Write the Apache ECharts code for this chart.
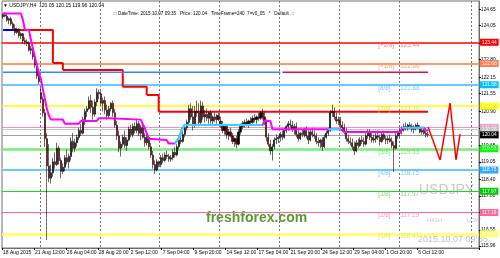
<!DOCTYPE html>
<html><head><meta charset="utf-8">
<script src="https://cdn.jsdelivr.net/npm/echarts@6/dist/echarts.min.js"></script>
<style>html,body{margin:0;padding:0;background:#fff}#c{width:500px;height:258px}</style>
</head><body><div id="c"></div>
<script>
// ---------------- DATA ----------------
const timeLabels = ['18 Aug 2015','21 Aug 12:00','26 Aug 04:00','28 Aug 20:00','2 Sep 12:00','7 Sep 04:00','9 Sep 20:00','14 Sep 12:00','17 Sep 04:00','21 Sep 20:00','24 Sep 12:00','29 Sep 04:00','1 Oct 20:00','6 Oct 12:00'];
const priceTicks = [124.65,124.05,123.42,122.80,122.15,121.55,120.90,120.30,119.65,119.05,118.40,117.80,117.19,116.55,115.96];

const opens = [
124.38,124.45,124.40,124.25,124.30,124.12,123.95,123.80,123.92,123.68,123.75,123.50,123.45,123.40,123.15,123.20,122.90,122.60,122.20,
121.60,121.35,120.85,119.90,118.90,118.45,
118.65,119.05,118.95,119.55,119.10,118.70,
118.85,119.20,119.05,119.25,119.80,119.55,
119.75,119.95,120.20,120.10,120.60,120.90,
121.00,121.30,121.05,120.80,121.25,121.60,
121.55,121.20,121.30,120.95,120.75,121.00,
121.20,120.85,120.40,120.00,119.55,119.70,
119.95,119.65,119.85,120.25,120.05,120.35,
120.20,120.45,120.10,120.30,119.95,119.75,
119.95,119.60,119.30,118.95,118.75,119.05,
118.95,119.20,119.10,119.30,119.25,119.15,
119.20,119.40,119.30,119.60,119.85,119.80,
120.05,120.30,120.50,121.00,120.70,120.40,
120.90,120.85,120.50,121.10,120.70,120.80,
120.65,120.85,120.55,120.70,120.60,120.75,
120.55,120.40,120.20,120.35,120.05,120.15,
120.00,119.80,119.90,119.70,120.15,120.35,
120.45,120.50,120.40,120.55,120.50,120.65,
120.60,120.70,120.65,120.85,120.70,120.55,
119.95,119.70,119.45,119.60,119.85,119.90,
119.95,120.05,119.95,120.20,120.35,120.45,
120.40,120.25,120.35,120.05,119.90,120.10,
120.05,120.20,120.00,119.85,120.15,120.05,
120.00,119.80,119.75,119.85,119.60,119.95,
120.10,120.20,120.85,120.90,120.70,120.55,
120.60,120.40,120.30,120.15,119.90,119.80,
119.75,119.60,119.45,119.75,119.65,119.85,
119.80,119.70,120.00,120.15,119.95,119.85,
119.90,120.00,119.95,119.80,120.05,119.90,
119.85,119.90,119.80,119.65,119.55,120.00,
120.10,120.20,120.25,120.35,120.30,120.40,
120.35,120.25,120.30,120.40,120.30,120.15,
120.20,120.10,120.05];
const highs = [
124.50,124.55,124.48,124.35,124.38,124.20,124.10,123.98,123.96,123.80,123.78,123.62,123.55,123.48,123.30,123.25,123.00,122.70,122.35,
121.80,121.45,121.00,120.10,119.70,118.95,
119.20,119.40,119.75,119.65,119.20,119.00,
119.30,119.50,119.35,119.95,120.10,119.90,
120.05,120.30,120.45,120.70,121.00,121.10,
121.45,121.50,121.30,121.35,121.75,121.70,
121.65,121.40,121.45,121.15,121.10,121.25,
121.30,121.00,120.55,120.20,119.80,120.05,
120.20,119.95,120.35,120.40,120.45,120.50,
120.60,120.55,120.40,120.45,120.10,120.05,
120.00,119.75,119.45,119.10,119.15,119.10,
119.30,119.35,119.40,119.45,119.35,119.30,
119.50,119.60,119.70,119.95,120.05,120.15,
120.40,120.60,121.15,121.20,121.10,121.10,
121.30,121.20,121.30,121.25,120.95,121.00,
120.90,120.95,120.75,120.85,120.80,120.85,
120.70,120.55,120.45,120.40,120.25,120.30,
120.10,119.95,120.00,120.25,120.45,120.55,
120.60,120.65,120.60,120.70,120.75,120.80,
120.75,120.85,120.90,121.00,120.90,120.60,
120.10,119.85,119.70,119.95,120.05,120.00,
120.15,120.20,120.30,120.40,120.55,120.60,
120.55,120.45,120.50,120.20,120.15,120.25,
120.30,120.35,120.20,120.25,120.30,120.20,
120.10,119.95,119.90,119.95,120.05,120.20,
120.30,120.95,121.15,121.05,120.85,120.70,
120.70,120.55,120.45,120.30,120.05,119.95,
119.90,119.80,119.85,119.90,119.95,120.00,
119.95,120.10,120.25,120.25,120.10,120.05,
120.10,120.20,120.05,120.15,120.20,120.00,
120.00,120.05,119.95,119.80,120.10,120.20,
120.30,120.35,120.45,120.50,120.45,120.50,
120.45,120.40,120.45,120.50,120.40,120.30,
120.30,120.20,120.15];
const lows = [
124.30,124.35,124.20,124.10,124.05,123.85,123.70,123.75,123.60,123.55,123.40,123.35,123.30,123.10,123.00,122.80,122.50,122.10,121.90,
121.20,120.70,119.60,116.18,118.30,118.25,
118.50,118.80,118.90,118.95,118.45,118.60,
118.70,118.95,118.80,119.10,119.40,119.40,
119.60,119.85,120.00,120.05,120.40,120.70,
120.95,120.85,120.60,120.70,121.10,121.35,
121.10,120.90,120.80,120.60,120.65,120.90,
120.70,120.30,119.85,119.40,119.25,119.60,
119.55,119.45,119.80,119.95,119.95,120.10,
120.10,120.00,119.85,119.90,119.60,119.65,
119.50,119.20,118.80,118.60,118.70,118.85,
118.85,119.00,119.05,119.15,119.05,119.05,
119.10,119.20,119.25,119.50,119.70,119.75,
119.95,120.20,120.40,120.60,120.20,120.30,
120.70,120.35,120.40,120.60,120.50,120.55,
120.45,120.45,120.35,120.50,120.45,120.55,
120.30,120.10,120.05,119.90,119.85,119.95,
119.70,119.60,119.55,119.65,120.05,120.25,
120.30,120.35,120.30,120.40,120.45,120.50,
120.45,120.55,120.60,120.60,120.40,119.80,
119.60,119.30,119.10,119.50,119.70,119.75,
119.80,119.85,119.90,120.10,120.20,120.30,
120.15,120.05,119.95,119.80,119.85,119.95,
119.95,119.90,119.70,119.80,119.95,119.90,
119.70,119.60,119.55,119.45,119.55,119.90,
120.00,120.15,120.70,120.60,120.45,120.40,
120.30,120.20,120.05,119.80,119.70,119.65,
119.50,119.30,119.40,119.55,119.60,119.70,
119.60,119.65,119.90,119.85,119.75,119.75,
119.75,119.85,119.65,119.75,119.85,119.70,
119.70,119.75,119.55,118.68,119.50,119.90,
119.95,120.05,120.15,120.20,120.20,120.25,
120.15,120.10,120.20,120.25,120.10,120.05,
120.05,119.95,119.96];
const closes = [
124.45,124.40,124.25,124.30,124.12,123.95,123.80,123.92,123.68,123.75,123.50,123.45,123.40,123.15,123.20,122.90,122.60,122.20,122.00,
121.35,120.85,119.90,118.90,118.45,118.65,
119.05,118.95,119.55,119.10,118.70,118.85,
119.20,119.05,119.25,119.80,119.55,119.75,
119.95,120.20,120.10,120.60,120.90,121.00,
121.30,121.05,120.80,121.25,121.60,121.55,
121.20,121.30,120.95,120.75,121.00,121.20,
120.85,120.40,120.00,119.55,119.70,119.95,
119.65,119.85,120.25,120.05,120.35,120.20,
120.45,120.10,120.30,119.95,119.75,119.95,
119.60,119.30,118.95,118.75,119.05,118.95,
119.20,119.10,119.30,119.25,119.15,119.20,
119.40,119.30,119.60,119.85,119.80,120.05,
120.30,120.50,121.00,120.70,120.40,120.90,
120.85,120.50,121.10,120.70,120.80,120.65,
120.85,120.55,120.70,120.60,120.75,120.60,
120.40,120.20,120.35,120.05,120.15,120.00,
119.80,119.90,119.70,120.15,120.35,120.45,
120.50,120.40,120.55,120.50,120.65,120.60,
120.70,120.65,120.85,120.70,120.55,119.95,
119.70,119.45,119.60,119.85,119.90,119.95,
120.05,119.95,120.20,120.35,120.45,120.40,
120.25,120.35,120.05,119.90,120.10,120.05,
120.20,120.00,119.85,120.15,120.05,120.00,
119.80,119.75,119.85,119.60,119.95,120.10,
120.20,120.85,120.90,120.70,120.55,120.60,
120.40,120.30,120.15,119.90,119.80,119.75,
119.60,119.45,119.75,119.65,119.85,119.80,
119.70,120.00,120.15,119.95,119.85,119.90,
120.00,119.95,119.80,120.05,119.90,119.85,
119.90,119.80,119.65,119.55,120.00,120.10,
120.20,120.25,120.35,120.30,120.40,120.35,
120.25,120.30,120.40,120.30,120.15,120.20,
120.10,120.05,120.04];

// moving-average style line, read as vertices (bar, price)
const maBars   = [0,9,10,11,13,14,15,16,17,18,19,20,21,22,23,24,30,31,38,39,47,48,53,54,69,70,71,72,73,74,82,83,86,87,88,89,90,91,130,131,134,135,163,169,170,171,199,200,211,212,213];
const maPrices = [124.50,124.50,124.25,123.90,123.90,123.52,123.20,122.90,122.60,122.30,122.10,121.70,121.35,121.00,120.75,120.60,120.60,120.45,120.45,120.55,120.55,120.65,120.65,120.60,120.60,120.45,120.30,120.10,119.90,119.85,119.85,119.72,119.72,119.75,119.90,120.10,120.30,120.40,120.40,120.55,120.55,120.25,120.25,120.25,120.25,120.15,120.15,120.30,120.30,120.20,120.20];
// bar ranges where that line is drawn in its "rising" colour
const maUpFrom = [86,163,200];
const maUpTo   = [130,169,211];

// stepped stop line: level and first bar of each step
const stopStartBars = [0,7,25,30,60,72,78];
const stopLevels    = [123.89,123.89,122.68,122.42,121.81,121.50,120.89];
const stopLastBar = 213;

// partial horizontal line (from bar, to bar, price)
const partialFrom  = [0,140];
const partialTo    = [139,213];
const partialPrice = [122.34,122.34];

// forecast zigzag
const zigBars   = [213,219,224,227,229];
const zigPrices = [120.33,119.12,121.21,119.12,120.07];

// Murrey math levels
const levelTags   = ['[+2/8]','[+1/8]','[8/8]','[7/8]','[6/8]','[5/8]','[4/8]','[3/8]','[2/8]','[1/8]'];
const levelPrices = [123.44,122.66,121.88,121.10,120.31,119.53,118.75,117.97,117.19,116.41];
// other price lines
const extraPrices = [120.23,120.04];

// ---------------- STYLE ----------------
const levelLine  = ['#ff0000','#ff9966','#66ccff','#ffff00','#ff88c8','#77ee77','#66ccff','#11dd11','#ff6699','#ffff66'];
const levelWidth = [1.5,2,2,1.5,1,2.5,2,1,1,2.5];
const levelBox   = ['#ff0000','#ff7f50','#00bfff','#ffff00','#ff99cc','#00ff00','#33aaff','#00cc00','#ff6699','#ffff66'];
const levelText  = ['#ff5a5a','#ff8a5c','#55bbee','#e0e000','','#66dd66','#55bbee','#55cc55','#ff77aa','#e6e640'];
const extraLine  = ['#c8c8c8','#a0a0a0'];
const extraBox   = ['#c0c0c0','#000000'];
const partialColors = ['#3388ff','#dc143c'];
const stopColors = ['#0000ff','#ff0000','#ff0000','#ff0000','#ff0000','#ff0000','#ff0000'];
const gridBars = [19,49,79,109,139,169,199,235];
const SLOTS = 239;
const FONT = '"Liberation Sans",Arial,sans-serif';

// ---------------- BUILD ----------------
const cats = []; for (let i = 0; i < SLOTS; i++) cats.push('b' + i);
const candleData = opens.map((o, i) => [o, closes[i], lows[i], highs[i]]);
const maData = maBars.map((b, i) => [b, maPrices[i]]);
const zigData = zigBars.map((b, i) => [b, zigPrices[i]]);

const boxLabel = (p, bg) => ({show: true, position: 'end', distance: 1, formatter: p.toFixed(2), color: '#fff',
  backgroundColor: bg, padding: [1, 2, 1, 2], fontSize: 4.8, fontFamily: FONT});
const markLines = [];
levelPrices.forEach((p, i) => markLines.push({
  yAxis: p, lineStyle: {color: levelLine[i], width: levelWidth[i], type: 'solid'}, label: boxLabel(p, levelBox[i])
}));
extraPrices.forEach((p, i) => markLines.push({
  yAxis: p, lineStyle: {color: extraLine[i], width: 1, type: 'solid'}, label: boxLabel(p, extraBox[i])
}));

const tagPoints = [], valPoints = [];
levelPrices.forEach((p, i) => {
  if (!levelText[i]) return;
  tagPoints.push({value: [188, p], label: {color: levelText[i], formatter: levelTags[i]}});
  valPoints.push({value: [199, p], label: {color: levelText[i], formatter: p.toFixed(2)}});
});

const extraSeries = [];
stopStartBars.forEach((b, i) => {
  const last = i + 1 < stopStartBars.length ? stopStartBars[i + 1] : stopLastBar;
  const d = [[b, stopLevels[i]], [last, stopLevels[i]]];
  if (i + 1 < stopStartBars.length) d.push([last, stopLevels[i + 1]]);
  extraSeries.push({type: 'line', data: d, symbol: 'none', silent: true, z: 3,
    lineStyle: {color: stopColors[i], width: 2}});
});
extraSeries.push({type: 'line', data: maData, symbol: 'none', silent: true, z: 5,
  lineStyle: {color: '#ff00ff', width: 2}});
maUpFrom.forEach((f, k) => {
  const d = maData.filter(pt => pt[0] >= f && pt[0] <= maUpTo[k]);
  extraSeries.push({type: 'line', data: d, symbol: 'none', silent: true, z: 6,
    lineStyle: {color: '#22ddff', width: 2}});
});
partialFrom.forEach((f, i) => extraSeries.push({
  type: 'line', data: [[f, partialPrice[i]], [partialTo[i], partialPrice[i]]], symbol: 'none',
  lineStyle: {color: partialColors[i], width: 1.5}, silent: true, z: 3
}));

const labelShown = (i) => i % 16 === 0 && i / 16 < timeLabels.length;

const chart = echarts.init(document.getElementById('c'), null, {renderer: 'canvas'});
chart.setOption({
  animation: false,
  backgroundColor: '#ffffff',
  grid: {left: 2, right: 21, top: 1, bottom: 10, show: true, borderColor: '#707070', borderWidth: 1},
  xAxis: {
    type: 'category', data: cats, boundaryGap: true,
    axisLine: {show: true, lineStyle: {color: '#707070'}},
    axisTick: {show: true, length: 2, interval: labelShown, lineStyle: {color: '#000'}},
    axisLabel: {show: true, interval: labelShown, showMinLabel: true, hideOverlap: false,
      formatter: (v, i) => timeLabels[i / 16] || '', align: 'left', margin: 2,
      fontSize: 5, color: '#000', fontFamily: FONT},
    splitLine: {show: true, interval: (i) => gridBars.indexOf(i) >= 0, lineStyle: {color: '#777', type: [2, 2], width: 1}}
  },
  yAxis: {
    type: 'value', position: 'right', min: 115.887, max: 124.955, scale: true,
    axisLine: {show: true, lineStyle: {color: '#707070'}},
    axisTick: {show: true, length: 2, customValues: priceTicks, lineStyle: {color: '#000'}},
    axisLabel: {show: true, customValues: priceTicks, formatter: (v) => v.toFixed(2), margin: 2,
      fontSize: 4.8, color: '#000', fontFamily: FONT},
    splitLine: {show: false}
  },
  series: [
    {type: 'candlestick', data: candleData, barWidth: 1.6, z: 4,
     itemStyle: {color: '#000000', color0: '#8b0000', borderColor: '#000000', borderColor0: '#1a0000', borderWidth: 0.6},
     markLine: {silent: true, symbol: ['none', 'none'], animation: false, z: 2, data: markLines}},
    {type: 'line', data: zigData, symbol: 'none', lineStyle: {width: 1.5, color: '#ff0000'}, itemStyle: {color: '#ff0000'}, z: 5, silent: true},
    {type: 'scatter', data: tagPoints, symbolSize: 0, silent: true, z: 7,
     label: {show: true, position: 'right', distance: 0, offset: [0, 3], fontSize: 6.3, fontFamily: FONT}},
    {type: 'scatter', data: valPoints, symbolSize: 0, silent: true, z: 7,
     label: {show: true, position: 'right', distance: 0, offset: [0, 3], fontSize: 6.3, fontFamily: FONT}}
  ].concat(extraSeries),
  graphic: [
    {type: 'text', left: 3, top: 3, style: {text: '\u25BC USDJPY,H4  120.05 120.15 119.96 120.04', fontSize: 5, fill: '#000', fontFamily: FONT}},
    {type: 'text', left: 113, top: 11, style: {text: '::: DateTime: 2015.10.07 09:35   Price: 120.04   TimeFrame=240  7=v0_05   *   Default :::', fontSize: 4.6, fill: '#000', fontFamily: FONT}},
    {type: 'text', left: 419, top: 183, style: {text: 'USDJPY', fontSize: 14, fill: '#c8c8c8', fontFamily: FONT}},
    {type: 'text', left: 427, top: 217, style: {text: 'HIGH', fontSize: 6, fill: '#c8c8c8', fontFamily: FONT}},
    {type: 'text', left: 467, top: 217, style: {text: 'LOW', fontSize: 6, fill: '#c8c8c8', fontFamily: FONT}},
    {type: 'text', left: 418, top: 235, style: {text: '2015.10.07 09:35', fontSize: 9, fill: '#c0c0c0', fontFamily: FONT}},
    {type: 'text', left: 206, top: 211, style: {text: 'freshforex.com', fontSize: 14, fontWeight: 'bold', fill: '#5a9a32', fontFamily: FONT}}
  ]
});
</script></body></html>
